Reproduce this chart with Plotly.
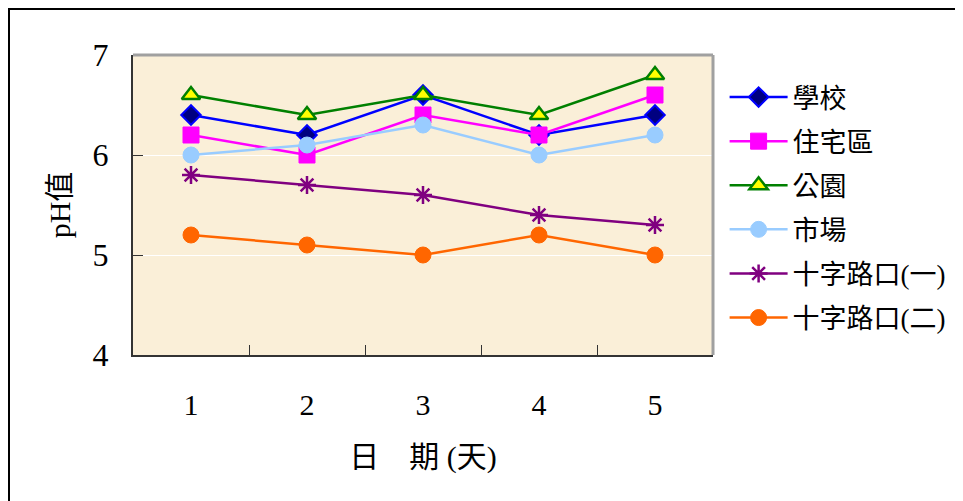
import plotly.graph_objects as go

days = ["1", "2", "3", "4", "5"]
school = [6.4, 6.2, 6.6, 6.2, 6.4]
residential = [6.2, 6.0, 6.4, 6.2, 6.6]
park = [6.6, 6.4, 6.6, 6.4, 6.8]
market = [6.0, 6.1, 6.3, 6.0, 6.2]
cross1 = [5.8, 5.7, 5.6, 5.4, 5.3]
cross2 = [5.2, 5.1, 5.0, 5.2, 5.0]
names = ["學校", "住宅區", "公園", "市場", "十字路口(一)", "十字路口(二)"]
y_ticks = [4, 5, 6, 7]

FONT = "Liberation Serif, Noto Sans CJK TC"

styles = [
    dict(line=dict(color="#0000FF", width=2.5),
         marker=dict(symbol="diamond", size=15, color="#000080", line=dict(color="#0000FF", width=2))),
    dict(line=dict(color="#FF00FF", width=2.5),
         marker=dict(symbol="square", size=16, color="#FF00FF", line=dict(color="#FF00FF", width=1))),
    dict(line=dict(color="#008000", width=2.5),
         marker=dict(symbol="triangle-up", size=16, color="#FFFF00", line=dict(color="#008000", width=2.5))),
    dict(line=dict(color="#99CCFF", width=2.5),
         marker=dict(symbol="circle", size=16, color="#99CCFF", line=dict(color="#99CCFF", width=1))),
    dict(line=dict(color="#800080", width=2.5),
         marker=dict(symbol="asterisk-open", size=15, color="#800080", line=dict(color="#800080", width=2.5))),
    dict(line=dict(color="#FF6600", width=2.5),
         marker=dict(symbol="circle", size=16, color="#FF6600", line=dict(color="#FF6600", width=1))),
]

series = [school, residential, park, market, cross1, cross2]

fig = go.Figure()
for i, (nm, vals, st) in enumerate(zip(names, series, styles)):
    fig.add_trace(go.Scatter(x=days, y=vals, name=nm, mode="lines+markers",
                             legendgroup=str(i), **st))

fig.update_layout(
    width=963, height=501,
    margin=dict(l=125, r=258, t=47, b=154),
    paper_bgcolor="white",
    plot_bgcolor="#FAEFD8",
    font=dict(family=FONT, color="#000000"),
    showlegend=True,
    legend=dict(x=1.02, xanchor="left", y=0.94, yanchor="top",
                font=dict(size=27, family=FONT), tracegroupgap=6,
                bgcolor="rgba(0,0,0,0)", itemwidth=58),
    xaxis=dict(type="category", range=[-0.5, 4.5], tickson="boundaries",
               ticks="inside", ticklen=10, tickcolor="#333333", tickwidth=1,
               showline=True, linecolor="#333333", linewidth=2,
               showgrid=False, tickfont=dict(size=30, family=FONT),
               ticklabelstandoff=22,
               title=dict(text="日　期 (天)", font=dict(size=30, family=FONT), standoff=26)),
    yaxis=dict(range=[4, 7], tickvals=y_ticks, ticks="inside", ticklen=10,
               tickcolor="#333333", tickwidth=1,
               showline=True, linecolor="#333333", linewidth=2,
               showgrid=True, gridcolor="white", gridwidth=1, zeroline=False,
               tickfont=dict(size=32, family=FONT), ticklabelstandoff=16,
               title=dict(text="pH值", font=dict(size=30, family=FONT), standoff=13)),
    shapes=[
        dict(type="line", xref="paper", yref="paper", x0=0, x1=1, y0=1, y1=1,
             line=dict(color="#A0A0A0", width=3)),
        dict(type="line", xref="paper", yref="paper", x0=1, x1=1, y0=0, y1=1,
             line=dict(color="#A0A0A0", width=3)),
        dict(type="rect", xref="paper", yref="paper",
             x0=(9 - 133) / 580, x1=(980 - 133) / 580,
             y0=(355 - 520) / 300, y1=(355 - 9) / 300,
             line=dict(color="black", width=2), layer="below"),
    ],
)

fig.write_html("out.html")
